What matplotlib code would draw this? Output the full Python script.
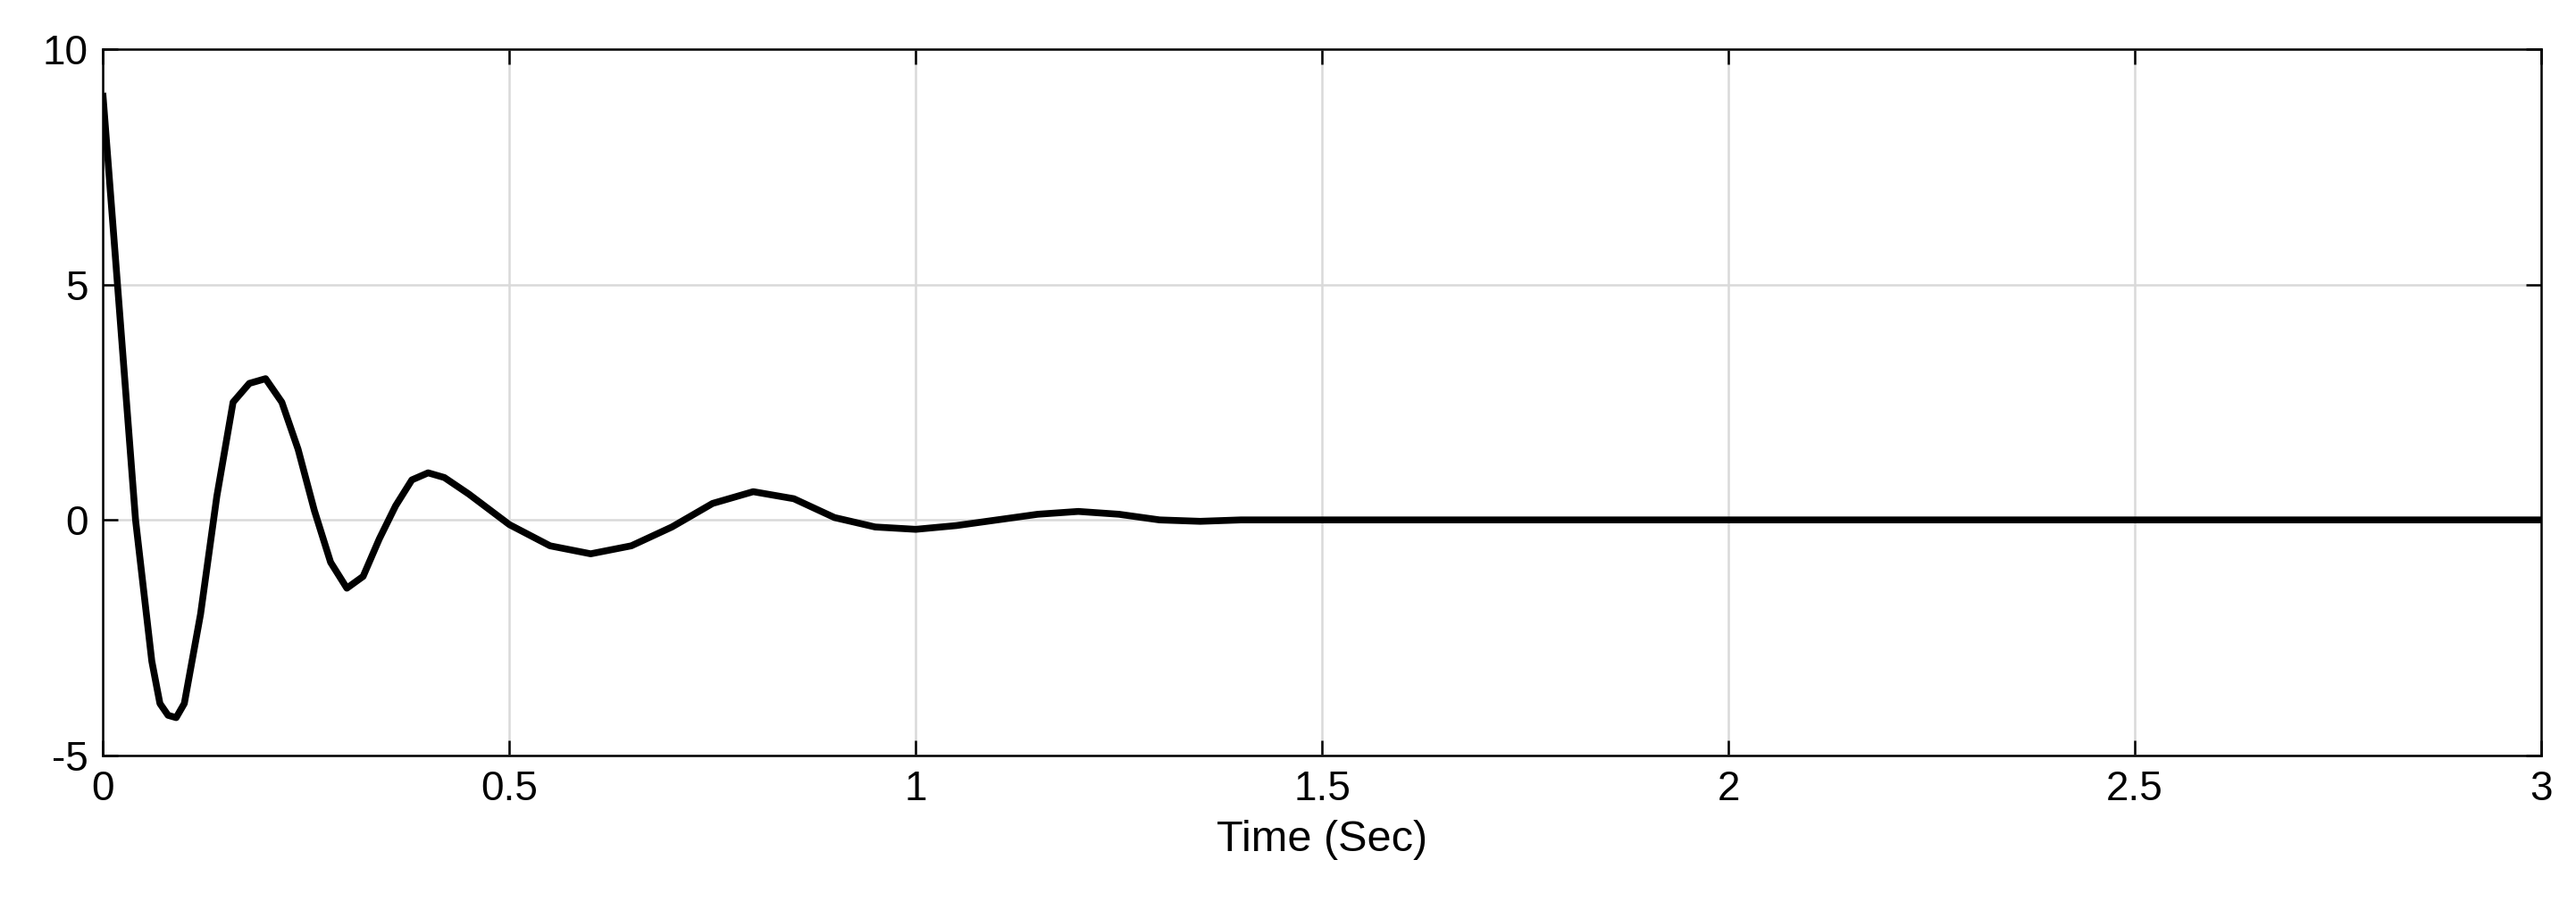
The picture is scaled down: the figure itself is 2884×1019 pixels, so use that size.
import matplotlib
matplotlib.use("Agg")
import matplotlib.pyplot as plt

t = [0, 0.02, 0.04, 0.06, 0.07, 0.08, 0.09, 0.1, 0.12, 0.14, 0.16, 0.18, 0.2, 0.22, 0.24, 0.26, 0.28, 0.3,
     0.32, 0.34, 0.36, 0.38, 0.4, 0.42, 0.45, 0.5, 0.55, 0.6, 0.65, 0.7, 0.75, 0.8, 0.85, 0.9, 0.95, 1.0,
     1.05, 1.1, 1.15, 1.2, 1.25, 1.3, 1.35, 1.4, 3.0]
y = [9, 4.5, 0, -3.0, -3.9, -4.15, -4.2, -3.9, -2.0, 0.5, 2.5, 2.9, 3.0, 2.5, 1.5, 0.2, -0.9, -1.45,
     -1.2, -0.4, 0.3, 0.85, 1.0, 0.9, 0.55, -0.1, -0.55, -0.72, -0.55, -0.15, 0.35, 0.6, 0.45, 0.05, -0.15, -0.2,
     -0.12, 0.0, 0.12, 0.18, 0.12, 0.0, -0.03, 0.0, 0.0]
xticks = [0, 0.5, 1, 1.5, 2, 2.5, 3]
xticklabels = ["0", "0.5", "1", "1.5", "2", "2.5", "3"]
yticks = [-5, 0, 5, 10]
yticklabels = ["-5", "0", "5", "10"]

plt.rcParams['font.family'] = ['Liberation Sans', 'DejaVu Sans']
plt.rcParams['axes.unicode_minus'] = False
fig = plt.figure(figsize=(28.84, 10.19), dpi=100)
ax = fig.add_axes([0.040, 0.170, 0.9465, 0.776])
ax.plot(t, y, color='black', lw=5.5)
ax.set_xlim(0, 3)
ax.set_ylim(-5, 10)
ax.set_xticks(xticks)
ax.set_xticklabels(xticklabels)
ax.set_yticks(yticks)
ax.set_yticklabels(yticklabels)
ax.grid(True, color='#d9d9d9', lw=1.8)
ax.tick_params(direction='in', top=True, right=True, labelsize=33, length=12, width=1.8, pad=12)
for s in ax.spines.values():
    s.set_linewidth(1.8)
ax.set_xlabel("Time (Sec)", fontsize=35, labelpad=8)
fig.savefig("out.png", dpi=100)
